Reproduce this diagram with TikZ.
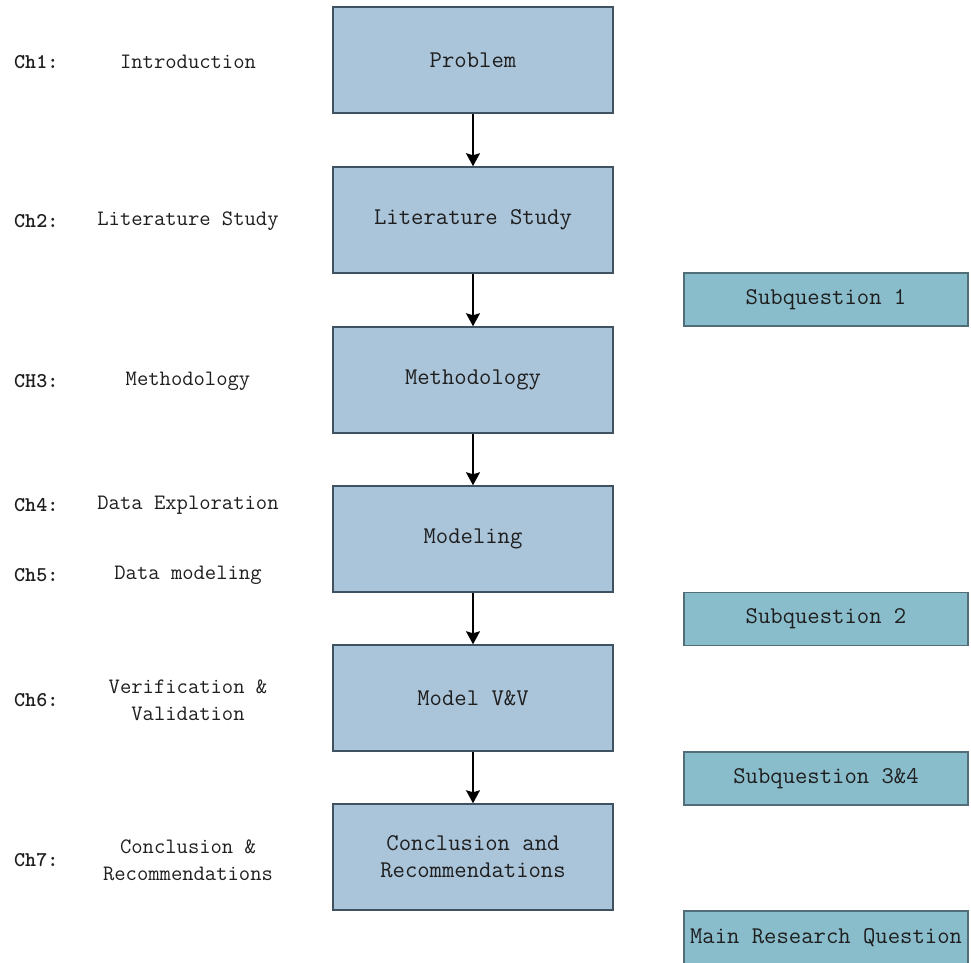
\documentclass[tikz,border=0pt]{standalone}
\usepackage{fontspec}
\usetikzlibrary{arrows.meta}
\definecolor{stepfill}{RGB}{170,196,217}
\definecolor{stepline}{RGB}{62,82,98}
\definecolor{qfill}{RGB}{138,189,204}
\definecolor{qline}{RGB}{82,110,120}
\definecolor{ink}{RGB}{30,30,30}
\begin{document}
\begin{tikzpicture}[x=1pt,y=-1pt,
  stepbox/.style={draw=stepline, fill=stepfill, line width=1.5pt,
    minimum width=280pt, minimum height=106pt, inner sep=0pt, align=center,
    font=\ttfamily\fontsize{24}{27}\selectfont, text=ink},
  qbox/.style={draw=qline, fill=qfill, line width=1.5pt,
    minimum width=284pt, minimum height=53pt, inner sep=0pt,
    font=\ttfamily\fontsize{24}{27}\selectfont, text=ink},
  chlabel/.style={anchor=west, inner sep=0pt,
    font=\ttfamily\bfseries\fontsize{21}{27}\selectfont, text=ink},
  chtext/.style={align=center, inner sep=0pt,
    font=\ttfamily\fontsize{22}{27}\selectfont, text=ink},
  flow/.style={-{Stealth[length=13pt,width=14pt,inset=2pt]}, line width=1.5pt, black}]

\useasboundingbox (0,0) rectangle (971,962);

% main process chain
\node[stepbox] (prob) at (473,60)  {Problem};
\node[stepbox] (lit)  at (473,220) {Literature Study};
\node[stepbox] (meth) at (473,380) {Methodology};
\node[stepbox] (mod)  at (473,539) {Modeling};
\node[stepbox] (vv)   at (473,698) {Model V\&V};
\node[stepbox] (conc) at (473,857) {Conclusion and\\Recommendations};

\draw[flow] (prob) -- (lit);
\draw[flow] (lit)  -- (meth);
\draw[flow] (meth) -- (mod);
\draw[flow] (mod)  -- (vv);
\draw[flow] (vv)   -- (conc);

% research questions
\node[qbox] (sq1)  at (826,299.5) {Subquestion 1};
\node[qbox] (sq2)  at (826,619)   {Subquestion 2};
\node[qbox] (sq34) at (826,778.5) {Subquestion 3\&4};
\node[qbox] (mrq)  at (826,937.5) {Main Research Question};

% chapter labels
\node[chlabel] (c1) at (14,62)  {Ch1:};
\node[chtext]  (t1) at (188,62) {Introduction};
\node[chlabel] (c2) at (14,221) {Ch2:};
\node[chtext]  (t2) at (188,221) {Literature Study};
\node[chlabel] (c3) at (14,381) {CH3:};
\node[chtext]  (t3) at (188,381) {Methodology};
\node[chlabel] (c4) at (14,505) {Ch4:};
\node[chtext]  (t4) at (188,505) {Data Exploration};
\node[chlabel] (c5) at (14,575) {Ch5:};
\node[chtext]  (t5) at (188,575) {Data modeling};
\node[chlabel] (c6) at (14,700) {Ch6:};
\node[chtext]  (t6) at (188,700) {Verification \&\\Validation};
\node[chlabel] (c7) at (14,860) {Ch7:};
\node[chtext]  (t7) at (188,860) {Conclusion \&\\Recommendations};
\end{tikzpicture}
\end{document}
